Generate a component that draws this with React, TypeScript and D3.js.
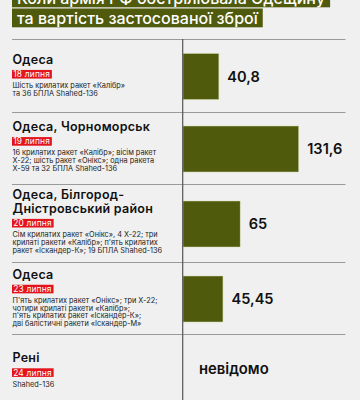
import React, { useEffect, useRef } from "react";
import * as d3 from "d3";

const headerLines = ["Коли армія РФ обстрілювала Одещину", "та вартість застосованої зброї"];
const placeLines = [
  ["Одеса"],
  ["Одеса, Чорноморськ"],
  ["Одеса, Білгород-", "Дністровський район"],
  ["Одеса"],
  ["Рені"],
];
const dates = ["18 липня", "19 липня", "20 липня", "23 липня", "24 липня"];
const weaponLines = [
  ["Шість крилатих ракет «Калібр»", "та 36 БПЛА Shahed-136"],
  ["16 крилатих ракет «Калібр»; вісім ракет", "Х-22; шість ракет «Онікс»; одна ракета", "Х-59 та 32 БПЛА Shahed-136"],
  ["Сім крилатих ракет «Онікс», 4 Х-22; три", "крилаті ракети «Калібр»; п'ять крилатих", "ракет «Іскандер-К»; 19 БПЛА Shahed-136"],
  ["П'ять крилатих ракет «Онікс»; три Х-22;", "чотири крилаті ракети «Калібр»;", "п'ять крилатих ракет «Іскандер-К»;", "дві балістичні ракети «Іскандер-М»"],
  ["Shahed-136"],
];
const costs: (number | null)[] = [40.8, 131.6, 65, 45.45, null];
const costLabels = ["40,8", "131,6", "65", "45,45", "невідомо"];

const W = 360, H = 400;
const FONT = "Inter, Roboto, 'Noto Sans', sans-serif";
const OLIVE = "#4f5a0c";
const RED = "#e3141c";
const rowEdges = [39, 112, 184, 262, 334, 406];

export default function App() {
  const ref = useRef<SVGSVGElement | null>(null);
  useEffect(() => {
    const svg = d3.select(ref.current);
    svg.selectAll("*").remove();
    svg.append("rect").attr("width", W).attr("height", H).attr("fill", "#f0f0f0");

    // header
    const hdr = svg.append("g");
    headerLines.forEach((line, i) => {
      const base = 4 + i * 20;
      const g = hdr.append("g");
      const t = g.append("text").attr("x", 17).attr("y", base).attr("fill", "#fff")
        .attr("font-family", FONT).attr("font-size", 16).attr("font-weight", 500).text(line);
      const w = (t.node() as SVGTextElement).getComputedTextLength();
      g.insert("rect", "text").attr("x", 12).attr("y", base - 15.5).attr("width", w + 10).attr("height", 18.8).attr("fill", OLIVE);
    });

    const x = d3.scaleLinear().domain([0, 131.6]).range([183, 298.7]);

    // separators
    rowEdges.slice(0, 5).forEach((y) => {
      svg.append("line").attr("x1", 12).attr("x2", 345.5).attr("y1", y + 0.5).attr("y2", y + 0.5)
        .attr("stroke", "#9a9a9a").attr("stroke-width", 1);
    });

    const TL = 13.6;
    placeLines.forEach((tl, i) => {
      const top = rowEdges[i], bot = rowEdges[i + 1];
      const rc = (top + bot) / 2;
      const wl = weaponLines[i];
      const block = 6 + (tl.length - 1) * TL + 14.5 + 11.5 + (wl.length - 1) * 7.7 + 4;
      let c = rc - block / 2 + 6;
      if (i === 1 || i === 2) c -= 1.5;
      const g = svg.append("g");
      tl.forEach((l, j) => {
        g.append("text").attr("x", 12.5).attr("y", c + j * TL + 4.3).attr("fill", "#111")
          .attr("font-family", FONT).attr("font-size", 12.5).attr("font-weight", 600)
          .attr("letter-spacing", 0.25).text(l);
      });
      const dc = c + (tl.length - 1) * TL + 14.5;
      const dg = g.append("g");
      const dt = dg.append("text").attr("x", 13.2).attr("y", dc + 3.1).attr("fill", "#fff")
        .attr("font-family", FONT).attr("font-size", 8.4).attr("letter-spacing", 0.2).text(dates[i]);
      const dw = (dt.node() as SVGTextElement).getComputedTextLength();
      dg.insert("rect", "text").attr("x", 12).attr("y", dc - 4.2).attr("width", dw + 3).attr("height", 8.6).attr("fill", RED);
      const wc = dc + 11.5;
      wl.forEach((l, j) => {
        g.append("text").attr("x", 12.5).attr("y", wc + j * 7.7 + 2.6).attr("fill", "#222")
          .attr("font-family", FONT).attr("font-size", 7.35).text(l);
      });

      const bc = rc + 1;
      const v = costs[i];
      if (v !== null) {
        svg.append("rect").attr("x", x(0)).attr("y", bc - 23).attr("width", x(v) - x(0)).attr("height", 46)
          .attr("fill", OLIVE).attr("stroke", "#d3d9a8").attr("stroke-width", 0.5);
        svg.append("text").attr("x", x(v) + 8.5).attr("y", bc + 5.3).attr("fill", "#111")
          .attr("font-family", FONT).attr("font-size", 14.6).attr("font-weight", 600).text(costLabels[i]);
      } else {
        svg.append("text").attr("x", x(0) + 16).attr("y", 373.5).attr("fill", "#111")
          .attr("font-family", FONT).attr("font-size", 14.8).attr("font-weight", 600).text(costLabels[i]);
      }
    });

    svg.append("line").attr("x1", 182.7).attr("x2", 182.7).attr("y1", 39).attr("y2", H)
      .attr("stroke", "#555").attr("stroke-width", 1.2);
  }, []);
  return (
    <svg ref={ref} width={W} height={H} style={{ position: "absolute", left: 0, top: 0 }} />
  );
}
